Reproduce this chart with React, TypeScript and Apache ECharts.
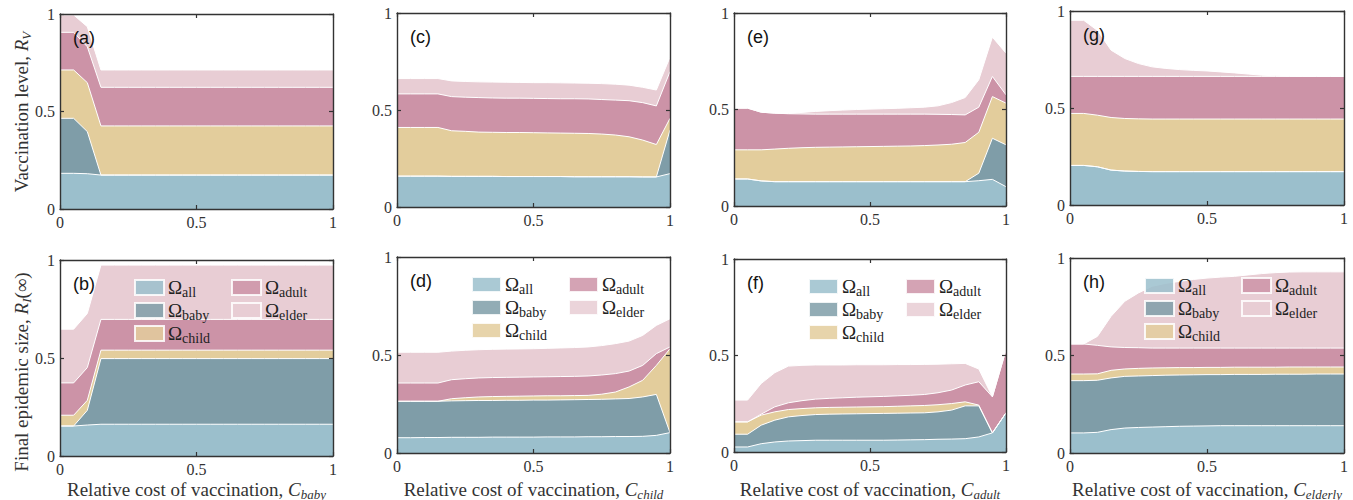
import React, { useEffect, useRef } from "react";
import * as echarts from "echarts";

// x grid: relative cost of vaccination
const xs = [0, 0.05, 0.1, 0.15, 0.2, 0.25, 0.3, 0.35, 0.4, 0.45, 0.5, 0.55, 0.6, 0.65, 0.7, 0.75, 0.8, 0.85, 0.9, 0.95, 1];

// Layer names (bottom to top) and colours
const layerNames = ["all", "baby", "child", "adult", "elder"];
const layerColors = ["#9bbfcc", "#7f9da8", "#e3cd9c", "#cc93a7", "#e8cdd4"];

// Cumulative upper boundary of each layer
// (a) vaccination level vs C_baby
const aAll = [0.183, 0.183, 0.181, 0.174, 0.174, 0.174, 0.174, 0.174, 0.174, 0.174, 0.174, 0.174, 0.174, 0.174, 0.174, 0.174, 0.174, 0.174, 0.174, 0.174, 0.174];
const aBaby = [0.465, 0.465, 0.397, 0.174, 0.174, 0.174, 0.174, 0.174, 0.174, 0.174, 0.174, 0.174, 0.174, 0.174, 0.174, 0.174, 0.174, 0.174, 0.174, 0.174, 0.174];
const aChild = [0.713, 0.713, 0.648, 0.426, 0.426, 0.426, 0.426, 0.426, 0.426, 0.426, 0.426, 0.426, 0.426, 0.426, 0.426, 0.426, 0.426, 0.426, 0.426, 0.426, 0.426];
const aAdult = [0.906, 0.906, 0.832, 0.624, 0.624, 0.624, 0.624, 0.624, 0.624, 0.624, 0.624, 0.624, 0.624, 0.624, 0.624, 0.624, 0.624, 0.624, 0.624, 0.624, 0.624];
const aElder = [0.995, 0.995, 0.935, 0.713, 0.713, 0.713, 0.713, 0.713, 0.713, 0.713, 0.713, 0.713, 0.713, 0.713, 0.713, 0.713, 0.713, 0.713, 0.713, 0.713, 0.713];

// (b) final epidemic size vs C_baby
const bAll = [0.153, 0.153, 0.158, 0.162, 0.162, 0.162, 0.162, 0.162, 0.162, 0.162, 0.162, 0.162, 0.162, 0.162, 0.162, 0.162, 0.162, 0.162, 0.162, 0.162, 0.162];
const bBaby = [0.153, 0.153, 0.233, 0.497, 0.497, 0.497, 0.497, 0.497, 0.497, 0.497, 0.497, 0.497, 0.497, 0.497, 0.497, 0.497, 0.497, 0.497, 0.497, 0.497, 0.497];
const bChild = [0.208, 0.208, 0.284, 0.54, 0.54, 0.54, 0.54, 0.54, 0.54, 0.54, 0.54, 0.54, 0.54, 0.54, 0.54, 0.54, 0.54, 0.54, 0.54, 0.54, 0.54];
const bAdult = [0.373, 0.373, 0.451, 0.697, 0.697, 0.697, 0.697, 0.697, 0.697, 0.697, 0.697, 0.697, 0.697, 0.697, 0.697, 0.697, 0.697, 0.697, 0.697, 0.697, 0.697];
const bElder = [0.647, 0.647, 0.727, 0.974, 0.974, 0.974, 0.974, 0.974, 0.974, 0.974, 0.974, 0.974, 0.974, 0.974, 0.974, 0.974, 0.974, 0.974, 0.974, 0.974, 0.974];

// (c) vaccination level vs C_child
const cAll = [0.159, 0.159, 0.159, 0.159, 0.158, 0.158, 0.158, 0.158, 0.157, 0.157, 0.157, 0.157, 0.157, 0.156, 0.156, 0.156, 0.156, 0.156, 0.155, 0.155, 0.172];
const cBaby = [0.159, 0.159, 0.159, 0.159, 0.158, 0.158, 0.158, 0.158, 0.157, 0.157, 0.157, 0.157, 0.157, 0.156, 0.156, 0.156, 0.156, 0.156, 0.155, 0.155, 0.397];
const cChild = [0.41, 0.41, 0.41, 0.41, 0.393, 0.39, 0.386, 0.385, 0.384, 0.384, 0.383, 0.382, 0.381, 0.38, 0.379, 0.376, 0.371, 0.362, 0.345, 0.322, 0.457];
const cAdult = [0.583, 0.583, 0.583, 0.583, 0.569, 0.566, 0.564, 0.562, 0.561, 0.561, 0.56, 0.559, 0.558, 0.558, 0.557, 0.554, 0.551, 0.548, 0.538, 0.521, 0.698];
const cElder = [0.662, 0.662, 0.662, 0.662, 0.65, 0.647, 0.645, 0.644, 0.643, 0.642, 0.641, 0.641, 0.64, 0.639, 0.638, 0.636, 0.633, 0.628, 0.617, 0.603, 0.772];

// (d) final epidemic size vs C_child
const dAll = [0.078, 0.078, 0.079, 0.079, 0.08, 0.08, 0.08, 0.081, 0.081, 0.081, 0.081, 0.082, 0.082, 0.082, 0.083, 0.083, 0.084, 0.084, 0.085, 0.09, 0.104];
const dBaby = [0.264, 0.264, 0.264, 0.264, 0.266, 0.267, 0.268, 0.268, 0.269, 0.269, 0.27, 0.27, 0.271, 0.272, 0.273, 0.274, 0.276, 0.278, 0.286, 0.299, 0.104];
const dChild = [0.264, 0.264, 0.264, 0.264, 0.277, 0.282, 0.286, 0.288, 0.289, 0.29, 0.291, 0.292, 0.292, 0.293, 0.294, 0.3, 0.311, 0.337, 0.371, 0.447, 0.532];
const dAdult = [0.357, 0.357, 0.357, 0.357, 0.374, 0.379, 0.383, 0.385, 0.386, 0.387, 0.388, 0.389, 0.39, 0.391, 0.393, 0.398, 0.405, 0.418, 0.447, 0.507, 0.541];
const dElder = [0.514, 0.514, 0.514, 0.514, 0.52, 0.524, 0.527, 0.529, 0.53, 0.531, 0.532, 0.534, 0.536, 0.538, 0.541, 0.548, 0.558, 0.571, 0.6, 0.651, 0.685];

// (e) vaccination level vs C_adult
const eAll = [0.14, 0.14, 0.13, 0.126, 0.126, 0.126, 0.126, 0.126, 0.126, 0.126, 0.126, 0.126, 0.126, 0.126, 0.126, 0.126, 0.126, 0.126, 0.131, 0.138, 0.1];
const eBaby = [0.14, 0.14, 0.13, 0.126, 0.126, 0.126, 0.126, 0.126, 0.126, 0.126, 0.126, 0.126, 0.126, 0.126, 0.126, 0.126, 0.126, 0.126, 0.17, 0.351, 0.317];
const eChild = [0.291, 0.291, 0.291, 0.295, 0.299, 0.302, 0.304, 0.305, 0.306, 0.307, 0.308, 0.309, 0.31, 0.311, 0.313, 0.316, 0.32, 0.329, 0.382, 0.567, 0.533];
const eAdult = [0.507, 0.507, 0.486, 0.481, 0.478, 0.477, 0.476, 0.476, 0.476, 0.476, 0.476, 0.476, 0.476, 0.476, 0.476, 0.475, 0.474, 0.472, 0.512, 0.671, 0.576];
const eElder = [0.507, 0.507, 0.486, 0.481, 0.479, 0.485, 0.49, 0.494, 0.497, 0.5, 0.502, 0.504, 0.506, 0.509, 0.512, 0.519, 0.536, 0.562, 0.654, 0.875, 0.792];

// (f) final epidemic size vs C_adult
const fAll = [0.026, 0.026, 0.043, 0.052, 0.057, 0.059, 0.061, 0.061, 0.061, 0.061, 0.061, 0.061, 0.062, 0.063, 0.064, 0.066, 0.067, 0.069, 0.078, 0.099, 0.203];
const fBaby = [0.092, 0.092, 0.139, 0.165, 0.182, 0.189, 0.194, 0.196, 0.197, 0.198, 0.199, 0.2, 0.201, 0.202, 0.203, 0.208, 0.217, 0.239, 0.239, 0.099, 0.203];
const fChild = [0.156, 0.156, 0.191, 0.208, 0.22, 0.225, 0.229, 0.231, 0.232, 0.233, 0.234, 0.235, 0.237, 0.239, 0.241, 0.245, 0.251, 0.26, 0.243, 0.099, 0.203];
const fAdult = [0.156, 0.156, 0.196, 0.234, 0.255, 0.266, 0.274, 0.278, 0.281, 0.284, 0.286, 0.288, 0.291, 0.294, 0.298, 0.307, 0.321, 0.347, 0.364, 0.286, 0.529];
const fElder = [0.269, 0.269, 0.355, 0.411, 0.445, 0.449, 0.451, 0.451, 0.451, 0.452, 0.452, 0.452, 0.453, 0.453, 0.454, 0.455, 0.457, 0.459, 0.43, 0.286, 0.529];

// (g) vaccination level vs C_elderly
const gAll = [0.204, 0.204, 0.197, 0.18, 0.175, 0.173, 0.172, 0.172, 0.172, 0.172, 0.172, 0.172, 0.172, 0.172, 0.172, 0.172, 0.172, 0.172, 0.172, 0.172, 0.172];
const gBaby = [0.204, 0.204, 0.197, 0.18, 0.175, 0.173, 0.172, 0.172, 0.172, 0.172, 0.172, 0.172, 0.172, 0.172, 0.172, 0.172, 0.172, 0.172, 0.172, 0.172, 0.172];
const gChild = [0.472, 0.472, 0.463, 0.451, 0.446, 0.444, 0.443, 0.443, 0.443, 0.443, 0.443, 0.443, 0.443, 0.443, 0.443, 0.443, 0.443, 0.443, 0.443, 0.443, 0.443];
const gAdult = [0.663, 0.663, 0.663, 0.663, 0.663, 0.663, 0.663, 0.663, 0.663, 0.663, 0.663, 0.663, 0.663, 0.663, 0.663, 0.663, 0.663, 0.663, 0.663, 0.663, 0.663];
const gElder = [0.952, 0.952, 0.9, 0.798, 0.755, 0.729, 0.712, 0.704, 0.698, 0.694, 0.691, 0.686, 0.681, 0.675, 0.669, 0.666, 0.664, 0.663, 0.663, 0.663, 0.663];

// (h) final epidemic size vs C_elderly
const hAll = [0.103, 0.103, 0.106, 0.12, 0.128, 0.131, 0.133, 0.135, 0.137, 0.138, 0.139, 0.14, 0.14, 0.14, 0.14, 0.14, 0.14, 0.14, 0.14, 0.14, 0.14];
const hBaby = [0.371, 0.371, 0.373, 0.385, 0.393, 0.395, 0.397, 0.399, 0.4, 0.401, 0.402, 0.402, 0.403, 0.403, 0.403, 0.404, 0.404, 0.404, 0.405, 0.405, 0.405];
const hChild = [0.405, 0.405, 0.406, 0.424, 0.431, 0.434, 0.436, 0.437, 0.438, 0.438, 0.439, 0.439, 0.44, 0.44, 0.44, 0.44, 0.441, 0.441, 0.441, 0.441, 0.441];
const hAdult = [0.559, 0.559, 0.552, 0.544, 0.541, 0.54, 0.538, 0.538, 0.538, 0.538, 0.538, 0.538, 0.538, 0.538, 0.538, 0.538, 0.538, 0.538, 0.538, 0.538, 0.538];
const hElder = [0.559, 0.559, 0.598, 0.701, 0.778, 0.821, 0.855, 0.87, 0.88, 0.89, 0.897, 0.902, 0.906, 0.913, 0.92, 0.925, 0.928, 0.929, 0.929, 0.929, 0.929];

const panelLabels = ["(a)", "(b)", "(c)", "(d)", "(e)", "(f)", "(g)", "(h)"];
const costSubscripts = ["baby", "child", "adult", "elderly"];
const legendCol1 = [0, 1, 2]; // all, baby, child
const legendCol2 = [3, 4]; // adult, elder

const SERIF = "Liberation Serif";
const SANS = "Liberation Sans";
const AXIS_COLOR = "#333";
const LEGEND_TEXT = "#222";

const panels = [
  { label: 0, layers: [aAll, aBaby, aChild, aAdult, aElder], grid: { left: 60, top: 14, width: 273, height: 195 }, col: 0, row: 0 },
  { label: 1, layers: [bAll, bBaby, bChild, bAdult, bElder], grid: { left: 60, top: 260, width: 273, height: 196 }, col: 0, row: 1 },
  { label: 2, layers: [cAll, cBaby, cChild, cAdult, cElder], grid: { left: 397, top: 13, width: 273, height: 194 }, col: 1, row: 0 },
  { label: 3, layers: [dAll, dBaby, dChild, dAdult, dElder], grid: { left: 397, top: 257, width: 273, height: 196 }, col: 1, row: 1 },
  { label: 4, layers: [eAll, eBaby, eChild, eAdult, eElder], grid: { left: 734, top: 13, width: 272, height: 193 }, col: 2, row: 0 },
  { label: 5, layers: [fAll, fBaby, fChild, fAdult, fElder], grid: { left: 734, top: 259, width: 272, height: 193 }, col: 2, row: 1 },
  { label: 6, layers: [gAll, gBaby, gChild, gAdult, gElder], grid: { left: 1070, top: 11, width: 274, height: 194 }, col: 3, row: 0 },
  { label: 7, layers: [hAll, hBaby, hChild, hAdult, hElder], grid: { left: 1070, top: 258, width: 274, height: 195 }, col: 3, row: 1 },
];

type Piece = { text: string; size: number; italic?: boolean; dy?: number };

let measureCtx: CanvasRenderingContext2D | null = null;
function measure(p: Piece) {
  if (!measureCtx) measureCtx = document.createElement("canvas").getContext("2d");
  if (!measureCtx) return p.text.length * p.size * 0.5;
  measureCtx.font = `${p.italic ? "italic " : ""}${p.size}px ${SERIF}`;
  return measureCtx.measureText(p.text).width;
}

// A line of text made of plain text pieces (for sub-scripts), centred or left-aligned at (x, y)
function textLine(pieces: Piece[], x: number, y: number, color: string, align: "center" | "left", rotation = 0) {
  const widths = pieces.map(measure);
  const total = widths.reduce((s, w) => s + w, 0);
  let cx = align === "center" ? -total / 2 : 0;
  const children = pieces.map((p, k) => {
    const el = {
      type: "text",
      x: cx,
      y: p.dy || 0,
      z: 100,
      silent: true,
      style: {
        text: p.text,
        fontFamily: SERIF,
        fontSize: p.size,
        fontStyle: p.italic ? "italic" : "normal",
        fill: color,
        align: "left",
        verticalAlign: "middle",
      },
    };
    cx += widths[k];
    return el;
  });
  return { type: "group", x, y, rotation, z: 100, silent: true, children };
}

function baseAxis(gridIndex: number, position: string, showLabel: boolean) {
  return {
    type: "value",
    gridIndex,
    position,
    min: 0,
    max: 1,
    interval: 0.5,
    axisLine: { show: true, onZero: false, lineStyle: { color: AXIS_COLOR, width: 1.4 } },
    axisTick: { show: true, inside: true, length: 4, lineStyle: { color: AXIS_COLOR, width: 1.2 } },
    axisLabel: { show: showLabel, fontFamily: SERIF, fontSize: 16, color: AXIS_COLOR, margin: 5 },
    splitLine: { show: false },
    z: 5,
  };
}

export default function App() {
  const ref = useRef<HTMLDivElement>(null);

  useEffect(() => {
    if (!ref.current) return;
    const chart = echarts.init(ref.current, undefined, { renderer: "svg" });

    const grids: any[] = [];
    const xAxes: any[] = [];
    const yAxes: any[] = [];
    const series: any[] = [];
    const graphics: any[] = [];

    panels.forEach((p, i) => {
      const g = p.grid;
      grids.push({ ...g, containLabel: false });
      xAxes.push(baseAxis(i, "bottom", true), baseAxis(i, "top", false));
      yAxes.push(baseAxis(i, "left", true), baseAxis(i, "right", false));

      for (let k = layerNames.length - 1; k >= 0; k--) {
        const vals = p.layers[k];
        series.push({
          name: layerNames[k],
          type: "line",
          xAxisIndex: 2 * i,
          yAxisIndex: 2 * i,
          data: xs.map((x, j) => [x, vals[j]]),
          symbol: "none",
          showSymbol: false,
          silent: true,
          lineStyle: { color: "#ffffff", width: 1 },
          itemStyle: { color: layerColors[k] },
          areaStyle: { color: layerColors[k], opacity: 1 },
        });
      }

      // panel label
      graphics.push({
        type: "text",
        x: g.left + 13,
        y: g.top + 24,
        z: 100,
        silent: true,
        style: { text: panelLabels[p.label], fontFamily: SANS, fontSize: 18, fill: "#111", verticalAlign: "middle" },
      });

      // x-axis name (bottom row)
      if (p.row === 1) {
        graphics.push(
          textLine(
            [
              { text: "Relative cost of vaccination, ", size: 19 },
              { text: "C", size: 19, italic: true },
              { text: costSubscripts[p.col], size: 13, italic: true, dy: 5 },
            ],
            g.left + g.width / 2,
            489,
            AXIS_COLOR,
            "center"
          )
        );
      }

      // y-axis name (first column)
      if (p.col === 0) {
        const pieces: Piece[] =
          p.row === 0
            ? [
                { text: "Vaccination level, ", size: 19 },
                { text: "R", size: 19, italic: true },
                { text: "V", size: 13, italic: true, dy: 5 },
              ]
            : [
                { text: "Final epidemic size, ", size: 19 },
                { text: "R", size: 19, italic: true },
                { text: "I", size: 13, italic: true, dy: 5 },
                { text: "(∞)", size: 19 },
              ];
        graphics.push(textLine(pieces, 21, p.row === 0 ? 112 : 372, AXIS_COLOR, "center", Math.PI / 2));
      }

      // legend (bottom row)
      if (p.row === 1) {
        const cols = [
          { x: g.left + 75, items: legendCol1 },
          { x: g.left + 172, items: legendCol2 },
        ];
        cols.forEach((c) => {
          c.items.forEach((k, r) => {
            const sy = g.top + 20 + r * 23;
            graphics.push({
              type: "rect",
              z: 90,
              silent: true,
              shape: { x: c.x, y: sy, width: 29, height: 15 },
              style: { fill: layerColors[k], opacity: 0.85, stroke: "#ffffff", lineWidth: 2 },
            });
            graphics.push(
              textLine(
                [
                  { text: "Ω", size: 19 },
                  { text: layerNames[k], size: 14, dy: 5 },
                ],
                c.x + 33,
                sy + 7.5,
                LEGEND_TEXT,
                "left"
              )
            );
          });
        });
      }
    });

    chart.setOption({
      animation: false,
      backgroundColor: "#ffffff",
      textStyle: { fontFamily: SERIF },
      grid: grids,
      xAxis: xAxes,
      yAxis: yAxes,
      series,
      graphic: graphics,
    });

    return () => chart.dispose();
  }, []);

  return <div ref={ref} style={{ position: "fixed", left: 0, top: 0, width: 1353, height: 500 }} />;
}
